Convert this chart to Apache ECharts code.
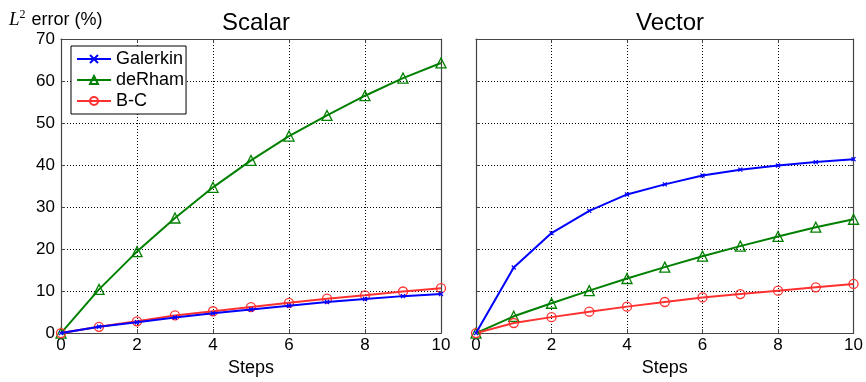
<!DOCTYPE html>
<html><head><meta charset="utf-8">
<script src="https://cdn.jsdelivr.net/npm/echarts@6/dist/echarts.min.js"></script>
<style>html,body{margin:0;padding:0;background:#fff}#c{width:866px;height:382px}</style>
</head><body><div id="c"></div>
<script>
const steps = [0,1,2,3,4,5,6,7,8,9,10];
const xTicks = [0,2,4,6,8,10];
const yTicks = [0,10,20,30,40,50,60,70];
const panelTitles = ['Scalar','Vector'];
const seriesNames = ['Galerkin','deRham','B-C'];
const scalarGalerkin = [0,1.5,2.6,3.7,4.7,5.6,6.5,7.4,8.1,8.8,9.3];
const scalarDeRham   = [0,10.4,19.4,27.4,34.7,41.1,46.9,51.8,56.5,60.7,64.3];
const scalarBC       = [0,1.5,2.8,4.2,5.2,6.2,7.2,8.2,9.0,9.9,10.7];
const vectorGalerkin = [0,15.6,23.8,29.1,33.0,35.4,37.5,38.9,39.9,40.7,41.4];
const vectorDeRham   = [0,4.0,7.1,10.1,13.0,15.7,18.3,20.7,23.0,25.2,27.1];
const vectorBC       = [0,2.4,3.8,5.1,6.3,7.4,8.5,9.3,10.1,10.9,11.7];

const FONT = 'Liberation Sans, Arial, Helvetica, sans-serif';
const colors = ['#0000ff','#008000','#ff3030'];
const symbols = ['path://M0,0L10,10M10,0L0,10','triangle','circle'];
const symSizes = [4,10,9];
const chart = echarts.init(document.getElementById('c'));

const grids = [
  {left:61, right:425, top:39, bottom:47},
  {left:476, right:9, top:39, bottom:47}
];
const frame = '#444';
function xAx(gi, pos){
  const bottom = pos==='bottom';
  return {type:'value', gridIndex:gi, position:pos, min:0, max:10, interval:2,
    axisLine:{show:true, onZero:false, lineStyle:{color:frame, width:1.2}},
    axisTick:{show:true, inside:true, length:4, lineStyle:{color:frame}},
    axisLabel:{show:bottom, color:'#000', fontSize:17, fontFamily:FONT, margin:4},
    splitLine:{show:bottom, lineStyle:{color:'#000', type:[1,2], width:1}},
    name: bottom ? 'Steps' : '', nameLocation:'middle', nameGap:23,
    nameTextStyle:{color:'#000', fontSize:18, fontFamily:FONT}};
}
function yAx(gi, pos){
  const left = pos==='left';
  return {type:'value', gridIndex:gi, position:pos, min:0, max:70, interval:10,
    axisLine:{show:true, onZero:false, lineStyle:{color:frame, width:1.2}},
    axisTick:{show:true, inside:true, length:4, lineStyle:{color:frame}},
    axisLabel:{show:left && gi===0, color:'#000', fontSize:17, fontFamily:FONT, margin:6},
    splitLine:{show:left, lineStyle:{color:'#000', type:[1,2], width:1}}};
}
const data = [[scalarGalerkin,scalarDeRham,scalarBC],[vectorGalerkin,vectorDeRham,vectorBC]];
const series = [];
for (let g=0; g<2; g++){
  for (let s=0; s<3; s++){
    series.push({type:'line', name:seriesNames[s], xAxisIndex:g*2, yAxisIndex:g*2,
      data: steps.map((x,i)=>[x, data[g][s][i]]),
      symbol:symbols[s], symbolSize:symSizes[s], showAllSymbol:true,
      lineStyle:{color:colors[s], width:2},
      itemStyle:{color: s===0 ? colors[s] : 'rgba(255,255,255,0)', borderColor:colors[s], borderWidth:1.3},
      z: s===0?3:2, animation:false});
  }
}
chart.setOption({
  backgroundColor:'#fff',
  animation:false,
  color:colors,
  title:[
    {text:panelTitles[0], left:251, top:6, textAlign:'center', textStyle:{fontSize:24, fontWeight:'normal', color:'#000', fontFamily:FONT}},
    {text:panelTitles[1], left:665, top:6, textAlign:'center', textStyle:{fontSize:24, fontWeight:'normal', color:'#000', fontFamily:FONT}},
    {text:'{i|L}{s|2}{t| error (%)}', left:4, top:4, textStyle:{fontSize:18, fontWeight:'normal', color:'#000', fontFamily:FONT,
      rich:{i:{fontFamily:'Liberation Serif, DejaVu Serif, serif', fontStyle:'italic', fontSize:19, color:'#000'},
            s:{fontFamily:'Liberation Serif, serif', fontSize:12, verticalAlign:'top', padding:[0,1,10,0], color:'#000'},
            t:{fontFamily:FONT, fontSize:18, color:'#000'}}}}
  ],
  legend:{left:71, top:46, orient:'vertical', itemWidth:34, itemHeight:10, itemGap:3,
    padding:[4,2,4,5], borderColor:'#000', borderWidth:1, backgroundColor:'#fff',
    textStyle:{fontSize:18, color:'#000', fontFamily:FONT}, data:seriesNames},
  grid:grids,
  xAxis:[xAx(0,'bottom'), xAx(0,'top'), xAx(1,'bottom'), xAx(1,'top')],
  yAxis:[yAx(0,'left'), yAx(0,'right'), yAx(1,'left'), yAx(1,'right')],
  series:series
});
</script></body></html>
